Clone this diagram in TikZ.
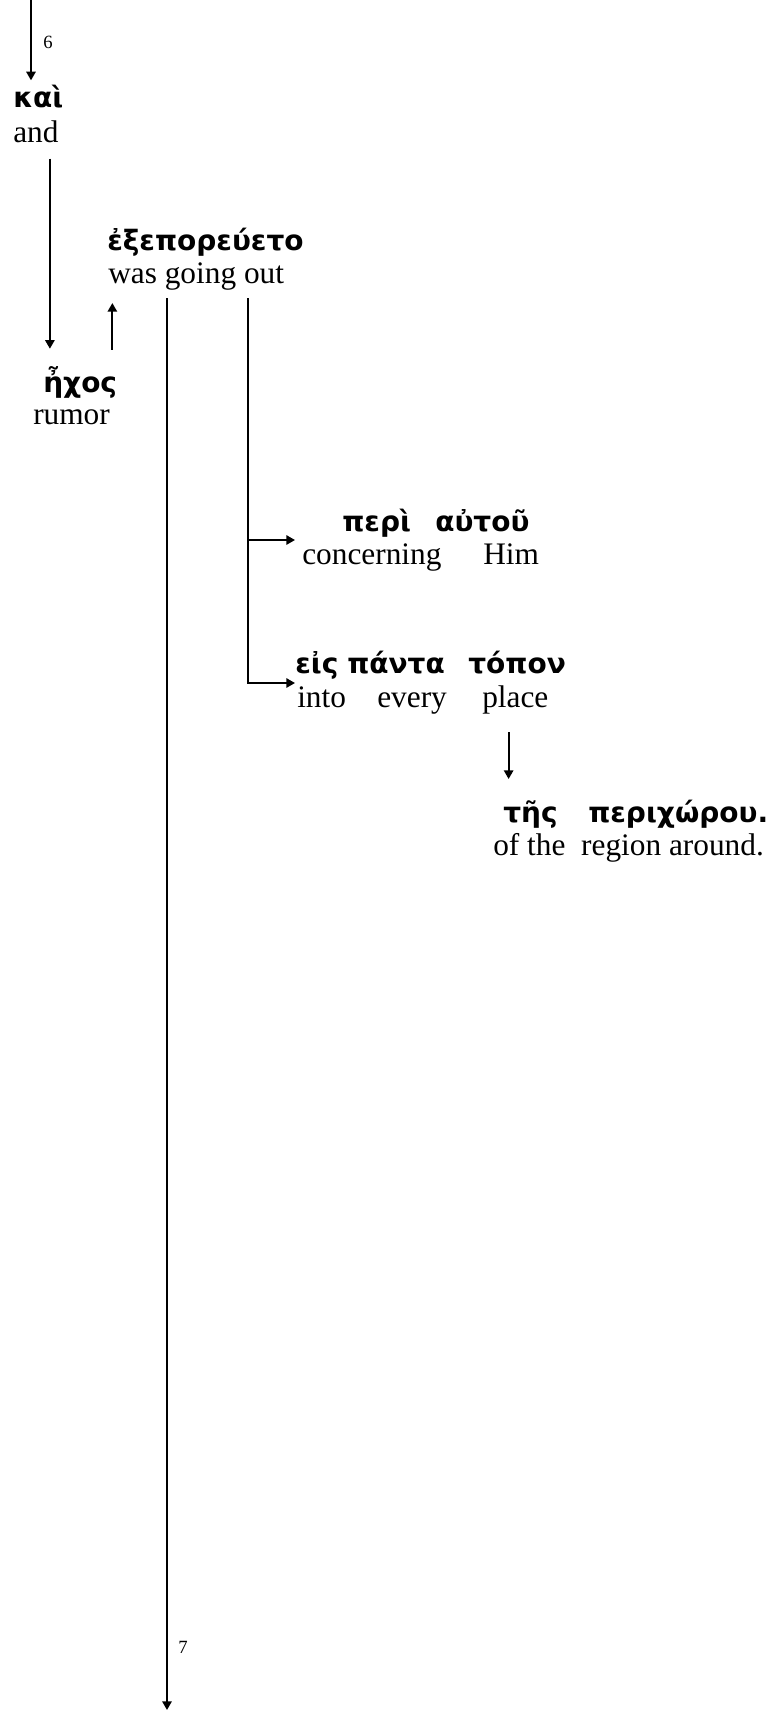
\documentclass[tikz,border=0pt]{standalone}
\usepackage{fontspec}
\setmainfont{Liberation Serif}
\newfontfamily\greekfont{DejaVu Sans}
\usetikzlibrary{arrows.meta, calc}
\tikzstyle{greek} = [anchor=base west, inner sep=0pt, font=\greekfont\bfseries\fontsize{21}{25}\selectfont]
\tikzstyle{gloss} = [anchor=base west, inner sep=0pt, font=\fontsize{23.5}{28}\selectfont]
\tikzstyle{verse} = [anchor=base west, inner sep=0pt, font=\fontsize{14}{16}\selectfont]
\tikzstyle{arrow} = [line width=1.4pt,-{Triangle[length=6.5pt,width=7pt]}]

\begin{document}
\begin{tikzpicture}[x=0.75pt,y=-0.75pt]
\useasboundingbox (0,0) rectangle (773,1711);

% Verse 6
\coordinate (v6top) at (31,0);
\node (v6) [verse] at (43,48) {6};
\node (kai) [greek] at (13,107) {καὶ};
\node (and) [gloss] at (13,142) {and};

% Subject and verb
\node (hxos) [greek] at (43,392) {ἦχος};
\node (rumor) [gloss] at (33,424) {rumor};
\node (exep) [greek] at (107,250) {ἐξεπορεύετο};
\node (going) [gloss] at (108,283) {was going out};

% Prepositional phrases
\node (peri) [greek] at (342,531) {\makebox[69.75pt][l]{περὶ}αὐτοῦ};
\node (concern) [gloss] at (302,564) {\makebox[135.75pt][l]{concerning}Him};
\node (eis) [greek] at (295,673) {\makebox[39pt][l]{εἰς}\makebox[90.75pt][l]{πάντα}τόπον};
\node (into) [gloss] at (297,707) {\makebox[60pt][l]{into}\makebox[78.75pt][l]{every}place};
\node (tis) [greek] at (503,822) {\makebox[63.75pt][l]{τῆς}περιχώρου.};
\node (region) [gloss] at (493,855) {of the\ \ region around.};

% Verse 7
\coordinate (end7) at (167,1710);
\node (v7) [verse] at (178,1653) {7};

% Arrows
\draw [arrow] (v6top) -- ($(v6top |- kai.north)+(0,-4)$);
\draw [arrow] ($(and.south)+(14,16)$) coordinate (s1) -- ($(s1 |- hxos.north)+(0,-17)$);
\draw [arrow] ($(hxos.north east)+(-5,-16)$) coordinate (s2) -- ($(s2 |- going.south)+(0,13)$);
\draw [arrow] ($(going.south west)+(59,8)$) coordinate (lA) -- (lA |- end7);
\draw [arrow] ($(going.south west)+(140,8)$) coordinate (lB) |- ($(eis.base west)+(0,10)$);
\draw [arrow] ($(lB |- concern.base west)+(0,-24)$) -- ($(concern.base west)+(-7,-24)$);
\draw [arrow] ($(into.base east)+(-40,25)$) coordinate (s3) -- ($(s3 |- tis.base west)+(0,-43)$);

\end{tikzpicture}
\end{document}
